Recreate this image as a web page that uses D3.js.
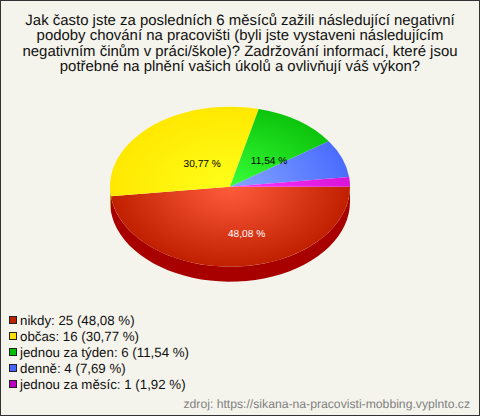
<!DOCTYPE html>
<html><head><meta charset="utf-8">
<script src="https://cdn.jsdelivr.net/npm/d3@7"></script>
<style>html,body{margin:0;padding:0;background:#f5f4ec}svg{display:block}text{font-family:"Liberation Sans",Arial,sans-serif;text-rendering:geometricPrecision}</style>
</head><body><svg id="c" width="480" height="416"></svg>
<script>
const titleLines=["Jak často jste za posledních 6 měsíců zažili následující negativní","podoby chování na pracovišti (byli jste vystaveni následujícím","negativním činům v práci/škole)? Zadržování informací, které jsou","potřebné na plnění vašich úkolů a ovlivňují váš výkon?"];
const categories=["nikdy","občas","jednou za týden","denně","jednou za měsíc"];
const counts=[25,16,6,4,1];
const percentLabels=["48,08 %","30,77 %","11,54 %","7,69 %","1,92 %"];
const showLabel=[true,true,true,false,false];
const labelColors=["#fff","#000","#000","#000","#000"];
const labelNudge=[13,12,5,0,0];
const edgeColors=["#c02000","#ffe800","#0cc40c","#4a6cff","#d814d8"];
const centerColors=["#ff5c3c","#ffff1a","#38ff38","#86a6ff","#ff38ff"];
const sideColors=["#a80000","#b09a00","#089008","#3048b0","#900e90"];
const legendColors=["#c02000","#ffe000","#00c000","#4466ff","#c000c0"];
const sourceText="zdroj: https://sikana-na-pracovisti-mobbing.vyplnto.cz";

const W=480,H=416,cx=230,cy=186.7,rx=120,ry=80,depth=15;
const svg=d3.select("#c");
svg.append("rect").attr("x",.5).attr("y",.5).attr("width",W-1).attr("height",H-1).attr("fill","#f5f4ec").attr("stroke","#333");

const tl=svg.append("g");
titleLines.forEach((t,i)=>tl.append("text").attr("x",240).attr("y",25+i*15.4).attr("text-anchor","middle").attr("font-size",14.95).attr("fill","#111").text(t));

const pie=d3.pie().sort(null).startAngle(Math.PI/2).endAngle(Math.PI*2.5);
const arcs=pie(counts);
const yScale=ry/rx;
const px=a=>cx+rx*Math.sin(a), py=a=>cy-ry*Math.cos(a);

const defs=svg.append("defs");
categories.forEach((c,i)=>{
  const g=defs.append("radialGradient").attr("id","g"+i).attr("gradientUnits","userSpaceOnUse").attr("cx",0).attr("cy",0).attr("r",rx);
  g.append("stop").attr("offset",0).attr("stop-color",centerColors[i]);
  g.append("stop").attr("offset",1).attr("stop-color",edgeColors[i]);
});

const gs=svg.append("g");
arcs.forEach((d,i)=>{
  const a0=Math.max(d.startAngle,Math.PI/2), a1=Math.min(d.endAngle,Math.PI*1.5);
  if(a1<=a0) return;
  const pts=d3.range(0,41).map(k=>a0+(a1-a0)*k/40);
  const top=pts.map(a=>[px(a),py(a)]);
  const bot=pts.slice().reverse().map(a=>[px(a),py(a)+depth]);
  gs.append("path").attr("d",d3.line()(top.concat(bot))+"Z").attr("fill",sideColors[i]);
});

const arcGen=d3.arc().innerRadius(0).outerRadius(rx);
const gt=svg.append("g").attr("transform",`translate(${cx},${cy}) scale(1,${yScale})`);
gt.selectAll("path").data(arcs).join("path").attr("d",arcGen).attr("fill",(d,i)=>`url(#g${i})`);

arcs.forEach((d,i)=>{
  if(!showLabel[i])return;
  const m=(d.startAngle+d.endAngle)/2;
  svg.append("text").attr("x",cx+.5*rx*Math.sin(m)+labelNudge[i]).attr("y",cy-.5*ry*Math.cos(m)+10)
    .attr("text-anchor","middle").attr("font-size",10.2).attr("fill",labelColors[i]).text(percentLabels[i]);
});

categories.forEach((c,i)=>{
  const y=320.5+i*16;
  svg.append("rect").attr("x",9.5).attr("y",y-4).attr("width",7).attr("height",7).attr("fill",legendColors[i]).attr("stroke","#222").attr("stroke-width",1);
  svg.append("text").attr("x",20).attr("y",y+4.3).attr("font-size",13.3).attr("fill","#111").text(`${c}: ${counts[i]} (${percentLabels[i]})`);
});

svg.append("text").attr("x",470).attr("y",407.5).attr("text-anchor","end").attr("font-size",12.2).attr("fill","#808080").text(sourceText);
</script></body></html>
